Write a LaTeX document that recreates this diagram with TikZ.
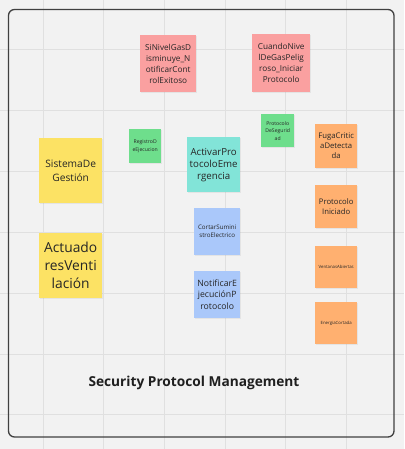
\documentclass[tikz,border=0pt]{standalone}
\usepackage{fontspec}
\setmainfont{Open Sans}
\usetikzlibrary{shadows}
\definecolor{pinknote}{RGB}{250,160,160}
\definecolor{greennote}{RGB}{110,222,140}
\definecolor{tealnote}{RGB}{130,228,216}
\definecolor{orangenote}{RGB}{255,176,112}
\definecolor{bluenote}{RGB}{170,200,250}
\definecolor{yellownote}{RGB}{252,226,100}
\definecolor{boardbg}{RGB}{242,242,242}
\definecolor{gridline}{RGB}{224,224,224}
\definecolor{framecol}{RGB}{64,64,64}
\tikzset{
  note/.style={anchor=north west,inner sep=0pt,align=center,text=black!85,
    drop shadow={opacity=0.12,shadow xshift=0.4pt,shadow yshift=-1pt}},
  fs/.style n args={2}{font=\fontsize{#1}{#2}\selectfont}
}
\begin{document}
\begin{tikzpicture}[x=1pt,y=-1pt]
\useasboundingbox (0,0) rectangle (404,449);
\fill[boardbg] (0,0) rectangle (404,449);
\foreach \gx in {43,103.7,164.4,225.1,285.8,346.5}
  \draw[gridline,line width=1pt] (\gx,0)--(\gx,449);
\foreach \gy in {50,110.8,171.6,232.4,293.2,354,414.8}
  \draw[gridline,line width=1pt] (0,\gy)--(404,\gy);
\draw[framecol,line width=1.3pt,rounded corners=6pt] (8.5,9.5) rectangle (394,437);
\node[note,fill=pinknote,minimum width=56pt,minimum height=57pt,fs={8.2}{11}] (siNivel) at (140,35) {SiNivelGasD\\isminuye\_N\\otificarCont\\rolExitoso};
\node[note,fill=pinknote,minimum width=58pt,minimum height=58pt,fs={8.2}{11}] (cuandoNivel) at (252,34) {CuandoNive\\lDeGasPelig\\roso\_Iniciar\\Protocolo};
\node[note,fill=greennote,minimum width=32pt,minimum height=34pt,fs={5.1}{7.3}] (registro) at (129,129) {RegistroD\\eEjecucion};
\node[note,fill=greennote,minimum width=33pt,minimum height=33pt,fs={5.1}{7.6}] (protSeg) at (261,114) {Protocolo\\DeSegurid\\ad};
\node[note,fill=tealnote,minimum width=53pt,minimum height=55pt,fs={9.7}{12}] (activar) at (187,137) {ActivarPro\\tocoloEme\\rgencia};
\node[note,fill=orangenote,minimum width=42pt,minimum height=44pt,fs={7.7}{10}] (fuga) at (315,124) {FugaCritic\\aDetecta\\da};
\node[note,fill=orangenote,minimum width=42pt,minimum height=43pt,fs={7.7}{10}] (iniciado) at (315,185) {Protocolo\\Iniciado};
\node[note,fill=orangenote,minimum width=42pt,minimum height=42pt,fs={4.3}{6}] (ventanas) at (315,246) {VentanasAbiertas};
\node[note,fill=orangenote,minimum width=42pt,minimum height=42pt,fs={4.3}{6}] (energia) at (315,302) {EnergiaCortada};
\node[note,fill=bluenote,minimum width=46pt,minimum height=47pt,fs={6.2}{8}] (cortar) at (194,208) {CortarSumini\\stroElectrico};
\node[note,fill=bluenote,minimum width=46pt,minimum height=47pt,fs={8.7}{11.5}] (notificar) at (194,271) {NotificarE\\jecuciónP\\rotocolo};
\node[note,fill=yellownote,minimum width=63pt,minimum height=65pt,fs={10.2}{14}] (sistema) at (39,138) {SistemaDe\\Gestión};
\node[note,fill=yellownote,minimum width=63pt,minimum height=65pt,fs={13.8}{18}] (actuadores) at (39,233) {Actuado\\resVenti\\lación};
\node[font=\fontsize{13.7}{16}\selectfont\bfseries,text=black!88] (titulo) at (194,382.5) {Security Protocol Management};
\end{tikzpicture}
\end{document}
